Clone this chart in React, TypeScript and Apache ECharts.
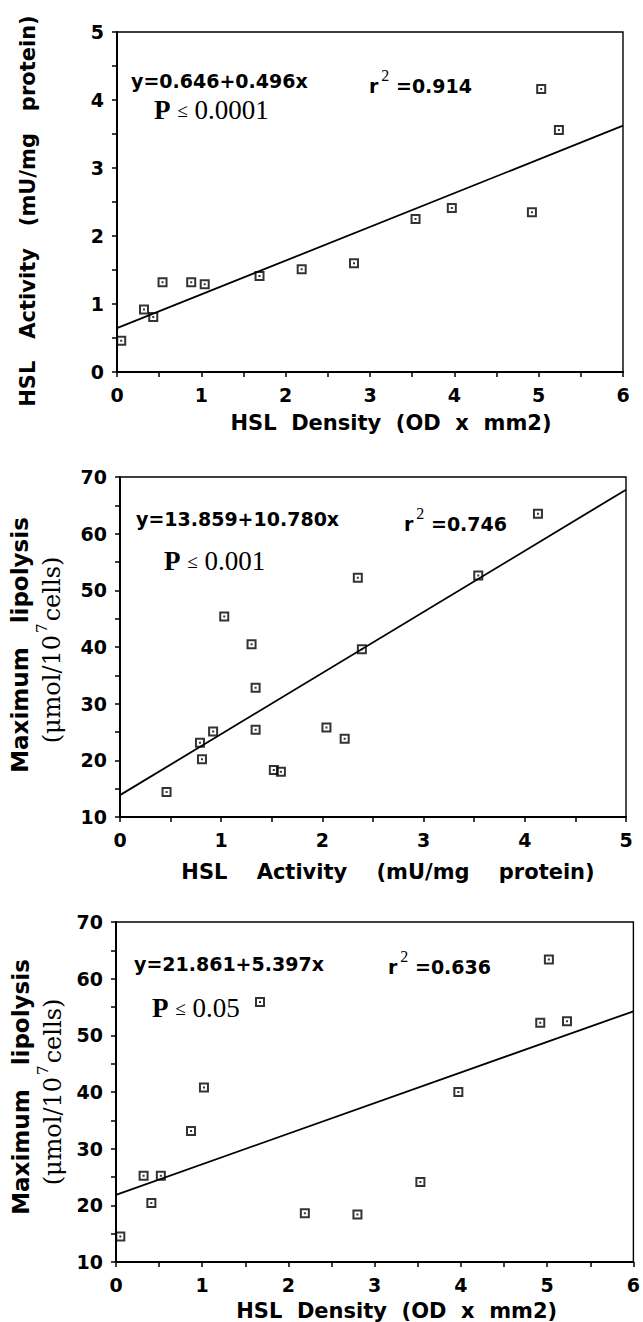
import React, { useEffect, useRef } from "react";
import * as echarts from "echarts";

// ---------- data ----------
const p1X = [0.05, 0.32, 0.43, 0.54, 0.88, 1.04, 1.69, 2.19, 2.81, 3.54, 3.97, 4.92, 5.03, 5.24];
const p1Y = [0.46, 0.92, 0.81, 1.32, 1.32, 1.29, 1.41, 1.51, 1.6, 2.25, 2.41, 2.35, 4.16, 3.56];

const p2X = [0.46, 0.79, 0.81, 0.92, 1.03, 1.3, 1.34, 1.34, 1.52, 1.59, 2.04, 2.22, 2.35, 2.39, 3.54, 4.13];
const p2Y = [14.4, 23.1, 20.2, 25.1, 45.4, 40.5, 32.8, 25.4, 18.3, 18.0, 25.8, 23.8, 52.2, 39.6, 52.6, 63.5];

const p3X = [0.05, 0.32, 0.41, 0.52, 0.87, 1.02, 1.67, 2.19, 2.8, 3.53, 3.97, 4.92, 5.02, 5.23];
const p3Y = [14.5, 25.2, 20.4, 25.2, 33.1, 40.8, 55.9, 18.6, 18.4, 24.1, 40.0, 52.2, 63.4, 52.5];

const fit1 = { intercept: 0.646, slope: 0.496, r2: "0.914", p: "0.0001" };
const fit2 = { intercept: 13.859, slope: 10.78, r2: "0.746", p: "0.001" };
const fit3 = { intercept: 21.861, slope: 5.397, r2: "0.636", p: "0.05" };

const xRange1 = [0, 6];
const xRange2 = [0, 5];
const xRange3 = [0, 6];
const yRange1 = [0, 5];
const yRange2 = [10, 70];
const yRange3 = [10, 70];

const xName1 = "HSL  Density  (OD  x  mm2)";
const xName2 = "HSL    Activity    (mU/mg    protein)";
const xName3 = "HSL  Density  (OD  x  mm2)";
const yName1 = "HSL   Activity   (mU/mg   protein)";
const yNameMain = "Maximum   lipolysis";

const SANS = "'DejaVu Sans', 'Liberation Sans', sans-serif";
const SERIF = "'Liberation Serif', 'Times New Roman', serif";
const DSERIF = "'DejaVu Serif', 'Liberation Serif', serif";

const SYMBOL = "path://M0 0H10V10H0Z M2 2V8H8V2Z M4 4H6V6H4Z";

function zip(xs: number[], ys: number[]) {
  return xs.map((x, i) => [x, ys[i]]);
}

function fitLine(fit: { intercept: number; slope: number }, xr: number[]) {
  return xr.map((x) => [x, fit.intercept + fit.slope * x]);
}

const intLabel = (v: number) => (Math.abs(v - Math.round(v)) < 1e-9 ? String(Math.round(v)) : "");
const tenLabel = (v: number) => (Math.round(v) % 10 === 0 ? String(Math.round(v)) : "");

const tickLabelStyle = {
  fontFamily: SANS,
  fontWeight: "bold",
  fontSize: 19,
  color: "#000",
  margin: 13,
  showMinLabel: true,
  showMaxLabel: true,
};

function xAxisDef(idx: number, range: number[], name: string, nameGap: number, shift: number) {
  return {
    type: "value",
    gridIndex: idx,
    min: range[0],
    max: range[1],
    interval: 0.5,
    name,
    nameLocation: "middle",
    nameGap,
    nameTextStyle: {
      fontFamily: SANS,
      fontWeight: "bold",
      fontSize: 21,
      color: "#000",
      padding: [0, 0, 0, shift * 2],
    },
    axisLine: { show: true, onZero: false, lineStyle: { color: "#000", width: 2 } },
    axisTick: { show: true, inside: false, length: 5, lineStyle: { color: "#000", width: 1.5 } },
    axisLabel: { ...tickLabelStyle, formatter: intLabel },
    splitLine: { show: false },
  };
}

function yAxisDef(idx: number, range: number[], interval: number, fmt: (v: number) => string) {
  return {
    type: "value",
    gridIndex: idx,
    min: range[0],
    max: range[1],
    interval,
    axisLine: { show: true, onZero: false, lineStyle: { color: "#000", width: 2 } },
    axisTick: { show: true, inside: false, length: 5, lineStyle: { color: "#000", width: 1.5 } },
    axisLabel: { ...tickLabelStyle, formatter: fmt },
    splitLine: { show: false },
  };
}

function scatterSeries(idx: number, data: number[][]) {
  return {
    type: "scatter",
    xAxisIndex: idx,
    yAxisIndex: idx,
    data,
    symbol: SYMBOL,
    symbolSize: 10,
    itemStyle: { color: "#000" },
    silent: true,
    z: 3,
  };
}

function lineSeries(idx: number, data: number[][]) {
  return {
    type: "line",
    xAxisIndex: idx,
    yAxisIndex: idx,
    data,
    showSymbol: false,
    symbol: "none",
    lineStyle: { color: "#000", width: 1.8 },
    silent: true,
    z: 2,
  };
}

function eqText(fit: { intercept: number; slope: number }) {
  return `y=${fit.intercept.toFixed(3)}+${fit.slope.toFixed(3)}x`;
}

function eqGraphic(x: number, y: number, fit: { intercept: number; slope: number }) {
  return {
    type: "text",
    x,
    y,
    style: {
      text: eqText(fit),
      fontFamily: SANS,
      fontWeight: "bold",
      fontSize: 19,
      fill: "#000",
      align: "left",
      verticalAlign: "middle",
    },
  };
}

function r2Graphic(x: number, y: number, r2: string) {
  return {
    type: "text",
    x,
    y,
    style: {
      text: `{r|r}{s|2}{r| =${r2}}`,
      align: "left",
      verticalAlign: "middle",
      rich: {
        r: { fontFamily: SANS, fontWeight: "bold", fontSize: 19, fill: "#000", lineHeight: 28, verticalAlign: "bottom" },
        s: { fontFamily: SERIF, fontSize: 16, fill: "#000", lineHeight: 28, verticalAlign: "top", padding: [0, 0, 0, 3] },
      },
    },
  };
}

function pGraphic(x: number, y: number, p: string) {
  return {
    type: "text",
    x,
    y,
    style: {
      text: `{p|P}{le| ≤ }{n|${p}}`,
      align: "left",
      verticalAlign: "middle",
      rich: {
        p: { fontFamily: SERIF, fontWeight: "bold", fontSize: 27, fill: "#000", lineHeight: 32 },
        le: { fontFamily: SERIF, fontSize: 19, fill: "#000", lineHeight: 32, padding: [0, 2, 0, 2] },
        n: { fontFamily: SERIF, fontSize: 27, fill: "#000", lineHeight: 32 },
      },
    },
  };
}

function yNameMainGraphic(x: number, y: number) {
  return {
    type: "text",
    x,
    y,
    rotation: Math.PI / 2,
    style: {
      text: yNameMain,
      fontFamily: SANS,
      fontWeight: "bold",
      fontSize: 23,
      fill: "#000",
      align: "center",
      verticalAlign: "middle",
    },
  };
}

function yNameUnitGraphic(x: number, y: number) {
  return {
    type: "text",
    x,
    y,
    rotation: Math.PI / 2,
    style: {
      text: "{u|(μmol/10}{s|7}{u|cells)}",
      align: "center",
      verticalAlign: "middle",
      rich: {
        u: { fontFamily: DSERIF, fontSize: 24, fill: "#000", lineHeight: 30, verticalAlign: "bottom" },
        s: { fontFamily: DSERIF, fontSize: 15, fill: "#000", lineHeight: 30, verticalAlign: "top", padding: [0, 2, 0, 2] },
      },
    },
  };
}

export default function App() {
  const ref = useRef<HTMLDivElement>(null);

  useEffect(() => {
    if (!ref.current) return;
    const chart = echarts.init(ref.current, undefined, { renderer: "svg" });
    const gridBase = { show: true, borderColor: "#000", borderWidth: 1.4, backgroundColor: "transparent" };
    chart.setOption({
      animation: false,
      backgroundColor: "#fff",
      grid: [
        { ...gridBase, left: 117, top: 32, width: 506, height: 340 },
        { ...gridBase, left: 120, top: 477, width: 506, height: 340 },
        { ...gridBase, left: 116, top: 922, width: 522, height: 340 },
      ],
      xAxis: [
        xAxisDef(0, xRange1, xName1, 40, 21),
        xAxisDef(1, xRange2, xName2, 44, 15),
        xAxisDef(2, xRange3, xName3, 38, 22),
      ],
      yAxis: [
        yAxisDef(0, yRange1, 0.5, intLabel),
        yAxisDef(1, yRange2, 5, tenLabel),
        yAxisDef(2, yRange3, 5, tenLabel),
      ],
      series: [
        lineSeries(0, fitLine(fit1, xRange1)),
        scatterSeries(0, zip(p1X, p1Y)),
        lineSeries(1, fitLine(fit2, xRange2)),
        scatterSeries(1, zip(p2X, p2Y)),
        lineSeries(2, fitLine(fit3, xRange3)),
        scatterSeries(2, zip(p3X, p3Y)),
      ],
      graphic: [
        eqGraphic(131, 81, fit1),
        r2Graphic(369, 81, fit1.r2),
        pGraphic(154, 110, fit1.p),
        eqGraphic(136, 519, fit2),
        r2Graphic(404, 519, fit2.r2),
        pGraphic(164, 561, fit2.p),
        eqGraphic(134, 964, fit3),
        r2Graphic(388, 962, fit3.r2),
        pGraphic(152, 1008, fit3.p),
        {
          type: "text",
          x: 28,
          y: 211,
          rotation: Math.PI / 2,
          style: {
            text: yName1,
            fontFamily: SANS,
            fontWeight: "bold",
            fontSize: 21,
            fill: "#000",
            align: "center",
            verticalAlign: "middle",
          },
        },
        yNameMainGraphic(20, 645),
        yNameUnitGraphic(49, 650),
        yNameMainGraphic(21, 1087),
        yNameUnitGraphic(50, 1092),
      ],
    });
    return () => chart.dispose();
  }, []);

  return (
    <div
      ref={ref}
      style={{ position: "absolute", left: 0, top: 0, width: 643, height: 1322, background: "#fff" }}
    />
  );
}
